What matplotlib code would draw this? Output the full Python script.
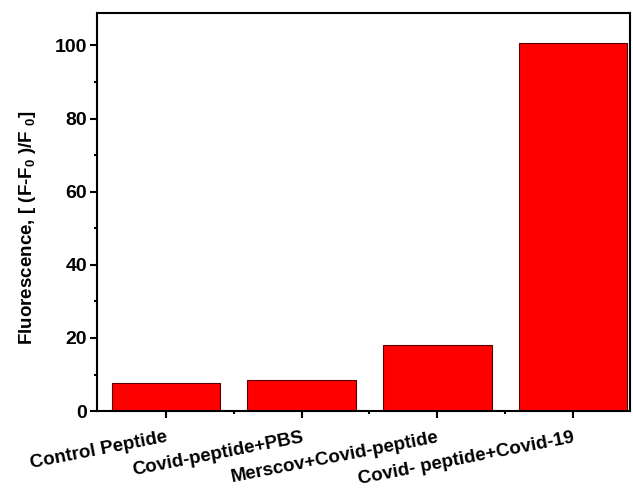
import matplotlib.pyplot as plt
from matplotlib.ticker import MultipleLocator

plt.rcParams['font.family'] = ['Liberation Sans', 'DejaVu Sans']
plt.rcParams['font.weight'] = 'bold'
plt.rcParams['mathtext.fontset'] = 'custom'
plt.rcParams['mathtext.rm'] = 'Liberation Sans:bold'
plt.rcParams['mathtext.bf'] = 'Liberation Sans:bold'

categories = ["Control Peptide", "Covid-peptide+PBS",
              "Merscov+Covid-peptide", "Covid- peptide+Covid-19"]
values = [7.6, 8.5, 18.2, 100.6]
positions = [1, 2, 3, 4]

fig = plt.figure(figsize=(6.33, 4.9), dpi=100)
ax = fig.add_axes([0.153, 0.161, 0.842, 0.812])

ax.bar(positions, values, width=0.8, color='#ff0000', edgecolor='#5a0000', linewidth=0.8)

ax.set_xlim(0.49, 4.42)
ax.set_ylim(0, 108.8)
ax.yaxis.set_major_locator(MultipleLocator(20))
ax.yaxis.set_minor_locator(MultipleLocator(10))
ax.set_xticks(positions)
ax.set_xticks([1.5, 2.5, 3.5], minor=True)
ax.set_xticklabels(categories, rotation=11, ha='right', va='top',
                   rotation_mode='anchor', fontsize=13.5, fontweight='bold')
ax.tick_params(axis='both', which='major', direction='out', length=5, width=1.5)
ax.tick_params(axis='both', which='minor', direction='out', length=2.5, width=1.5)
ax.tick_params(axis='x', which='major', pad=8)
ax.tick_params(axis='y', labelsize=14, pad=2)
for lbl in ax.get_yticklabels():
    lbl.set_fontweight('bold')
for s in ax.spines.values():
    s.set_linewidth(1.5)

ax.set_ylabel(r'Fluorescence, [ (F-F$_{\mathbf{0}}$ )/F $_{\mathbf{0}}$]',
              fontsize=13.5, fontweight='bold')
ax.yaxis.set_label_coords(-0.11, 0.46)

fig.savefig('out.png', dpi=100)
